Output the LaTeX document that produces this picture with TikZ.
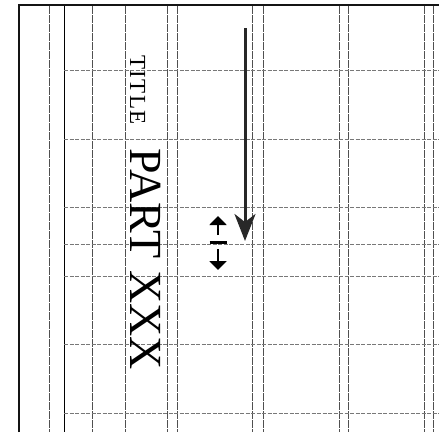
\documentclass[tikz,border=0pt]{standalone}
\usepackage{fontspec}
\setmainfont{Liberation Serif}
\usetikzlibrary{calc,arrows.meta}
\definecolor{frameBlack}{RGB}{20,20,20}
\definecolor{ruleGray}{RGB}{80,80,80}
\definecolor{guideGray}{RGB}{120,120,120}
\definecolor{arrowGray}{RGB}{40,40,40}
\newcommand{\TitleSize}[1]{{\fontsize{23.0}{25.0}\selectfont\addfontfeatures{LetterSpace=6}#1}}
\newcommand{\PartSize}[1]{{\fontsize{46.0}{48.0}\selectfont #1}}

\begin{document}
\begin{tikzpicture}[x=1pt,y=-1pt,
  colrule/.style={draw=ruleGray,line width=0.8pt,dash pattern=on 8pt off 1pt},
  rowrule/.style={draw=guideGray,line width=0.7pt,dash pattern=on 4pt off 1.5pt},
  dimtip/.style={-{Triangle[length=9pt,width=17pt]},line width=2pt,draw=black}]
\useasboundingbox (0,0) rectangle (439,432);
% frame
\draw[frameBlack,line width=2.2pt] (19,432) -- (19,5) -- (439,5);
% columns
\foreach \cx in {49,92,125,167,177,252,263,339,348,424,433}
  \draw[colrule] (\cx,6) -- (\cx,432);
\draw[black,line width=0.9pt] (64,6) -- (64,432);
% rows
\foreach \ry in {70,139,207,244,276,344,413}
  \draw[rowrule] (64,\ry) -- (439,\ry);
% texts
\node[rotate=-90,anchor=base west,inner sep=0pt] (title) at (130,55) {\TitleSize{TITLE}};
\node[rotate=-90,anchor=base west,inner sep=0pt] (part) at (130,148) {\PartSize{PART XXX}};
% long arrow
\coordinate (arrTop) at (245,28);
\coordinate (arrTip) at (245,241);
\draw[arrowGray,line width=3pt,-{Stealth[length=27pt,width=21pt,inset=8pt]}] (arrTop) -- (arrTip);
% gap mark
\coordinate (gapUp) at (218,216);
\coordinate (gapMid) at (218,242);
\coordinate (gapDown) at (218,270);
\draw[dimtip] ($(gapMid)+(0,-7)$) -- (gapUp);
\draw[dimtip] ($(gapMid)+(0,7)$) -- (gapDown);
\draw[black,line width=3pt] ($(gapMid)+(-8.5,0)$) -- ($(gapMid)+(8.5,0)$);
\end{tikzpicture}
\end{document}
